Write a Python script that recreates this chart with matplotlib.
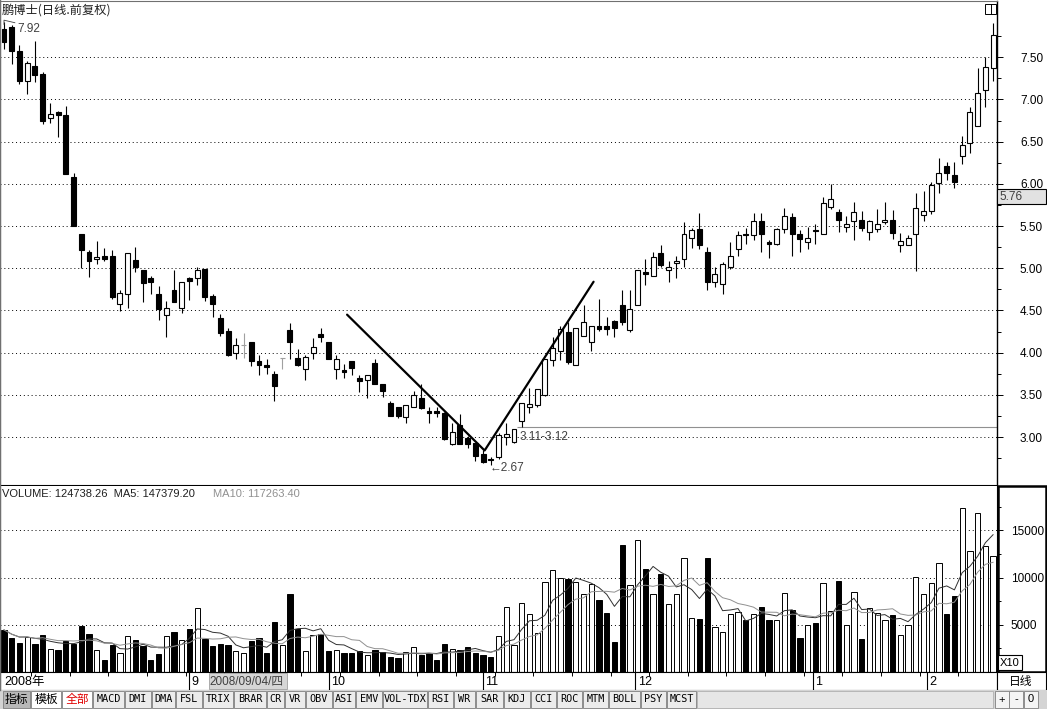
import numpy as np
import pandas as pd
import matplotlib
matplotlib.use('Agg')
import matplotlib.pyplot as plt
from matplotlib.patches import Rectangle

plt.rcParams['font.family'] = ['Liberation Sans', 'Noto Sans CJK SC', 'DejaVu Sans']
CJK = ['Noto Sans CJK SC', 'DejaVu Sans']

W, H = 1047, 709

# 日线数据 (前复权)
opens = [7.83, 7.86, 7.57, 7.22, 7.40, 7.30, 6.78, 6.85, 6.82, 6.08,
         5.40, 5.19, 5.11, 5.14, 5.15, 4.58, 4.69, 5.10, 4.98, 4.88,
         4.70, 4.44, 4.74, 4.53, 4.88, 4.88, 4.99, 4.67, 4.41, 4.26,
         4.00, 4.09, 4.13, 3.90, 3.85, 3.75, 3.94, 4.27, 3.94, 3.80,
         4.00, 4.22, 4.13, 3.80, 3.79, 3.90, 3.70, 3.67, 3.88, 3.63,
         3.40, 3.35, 3.24, 3.36, 3.46, 3.31, 3.31, 3.28, 2.92, 3.14,
         2.99, 2.93, 2.80, 2.74, 2.76, 3.00, 2.94, 3.19, 3.36, 3.38,
         3.50, 3.91, 4.02, 4.24, 3.85, 4.20, 4.13, 4.31, 4.32, 4.37,
         4.56, 4.27, 4.56, 4.95, 4.91, 5.18, 4.98, 5.06, 5.11, 5.36,
         5.46, 5.19, 4.84, 4.81, 5.01, 5.23, 5.40, 5.39, 5.56, 5.31,
         5.29, 5.47, 5.61, 5.40, 5.31, 5.45, 5.41, 5.72, 5.67, 5.49,
         5.56, 5.57, 5.43, 5.46, 5.55, 5.57, 5.28, 5.27, 5.40, 5.63,
         5.68, 6.01, 6.21, 6.11, 6.33, 6.49, 6.68, 7.11, 7.37]
highs = [7.92, 7.88, 7.65, 7.46, 7.69, 7.33, 6.96, 6.86, 6.92, 6.13,
         5.40, 5.22, 5.32, 5.24, 5.22, 4.74, 5.18, 5.25, 4.98, 4.91,
         4.79, 4.61, 4.98, 4.84, 4.90, 5.02, 4.99, 4.69, 4.46, 4.29,
         4.17, 4.23, 4.13, 3.97, 3.93, 3.78, 3.94, 4.35, 4.04, 3.97,
         4.17, 4.29, 4.13, 3.97, 3.87, 3.90, 3.74, 3.74, 3.93, 3.63,
         3.43, 3.35, 3.38, 3.54, 3.63, 3.35, 3.36, 3.30, 3.17, 3.27,
         3.01, 2.93, 2.85, 2.76, 3.05, 3.16, 3.10, 3.40, 3.58, 3.57,
         3.92, 4.18, 4.32, 4.36, 4.29, 4.56, 4.32, 4.63, 4.42, 4.39,
         4.74, 4.74, 4.98, 5.11, 5.19, 5.28, 5.09, 5.14, 5.55, 5.48,
         5.66, 5.25, 5.02, 5.07, 5.31, 5.44, 5.48, 5.66, 5.66, 5.33,
         5.48, 5.71, 5.66, 5.45, 5.49, 5.53, 5.85, 6.00, 5.70, 5.62,
         5.79, 5.68, 5.57, 5.70, 5.79, 5.69, 5.42, 5.39, 5.89, 5.91,
         6.02, 6.31, 6.26, 6.26, 6.57, 6.91, 7.37, 7.50, 7.91]
lows = [7.60, 7.42, 7.18, 7.07, 7.21, 6.71, 6.72, 6.55, 6.12, 5.50,
        5.00, 4.90, 5.05, 5.09, 4.64, 4.49, 4.53, 4.95, 4.60, 4.69,
        4.39, 4.19, 4.60, 4.47, 4.62, 4.80, 4.61, 4.42, 4.20, 3.96,
        3.93, 3.94, 3.84, 3.73, 3.75, 3.43, 3.80, 3.93, 3.84, 3.67,
        3.92, 4.12, 3.92, 3.69, 3.70, 3.74, 3.53, 3.46, 3.63, 3.47,
        3.25, 3.23, 3.17, 3.36, 3.33, 3.17, 3.24, 2.97, 2.91, 2.92,
        2.87, 2.72, 2.69, 2.67, 2.74, 2.91, 2.93, 3.12, 3.29, 3.35,
        3.48, 3.84, 3.91, 3.87, 3.85, 4.20, 4.02, 4.26, 4.21, 4.18,
        4.33, 4.24, 4.56, 4.80, 4.91, 5.01, 4.84, 4.89, 5.02, 5.24,
        5.23, 4.74, 4.78, 4.70, 4.99, 5.15, 5.29, 5.33, 5.19, 5.12,
        5.28, 5.42, 5.15, 5.19, 5.23, 5.29, 5.41, 5.70, 5.43, 5.43,
        5.34, 5.44, 5.34, 5.43, 5.52, 5.35, 5.19, 5.27, 4.97, 5.56,
        5.64, 5.89, 6.04, 5.95, 6.23, 6.36, 6.68, 6.91, 7.22]
closes = [7.68, 7.57, 7.22, 7.43, 7.29, 6.75, 6.83, 6.82, 6.12, 5.50,
          5.22, 5.08, 5.13, 5.11, 4.66, 4.71, 5.18, 5.02, 4.83, 4.84,
          4.52, 4.53, 4.60, 4.84, 4.85, 4.98, 4.66, 4.58, 4.23, 3.97,
          4.09, 4.09, 3.90, 3.85, 3.83, 3.60, 3.94, 4.13, 3.85, 3.95,
          4.07, 4.18, 3.93, 3.92, 3.77, 3.82, 3.66, 3.73, 3.63, 3.54,
          3.25, 3.25, 3.38, 3.50, 3.34, 3.29, 3.29, 2.98, 3.06, 2.92,
          2.92, 2.78, 2.70, 2.73, 3.02, 3.03, 3.09, 3.40, 3.39, 3.57,
          3.92, 4.05, 4.28, 3.89, 4.29, 4.36, 4.32, 4.28, 4.28, 4.29,
          4.36, 4.52, 4.98, 4.93, 5.13, 5.04, 5.02, 5.09, 5.40, 5.45,
          5.27, 4.84, 4.93, 5.05, 5.15, 5.39, 5.39, 5.56, 5.40, 5.29,
          5.47, 5.62, 5.41, 5.35, 5.36, 5.44, 5.77, 5.82, 5.57, 5.53,
          5.67, 5.48, 5.56, 5.52, 5.57, 5.42, 5.32, 5.36, 5.71, 5.68,
          5.99, 6.13, 6.13, 6.02, 6.46, 6.85, 7.08, 7.38, 7.76]
volumes = [4460, 3550, 3100, 3730, 3000, 3960, 2460, 2320, 3320, 2960,
           4910, 4050, 2280, 1270, 2820, 1960, 3820, 3410, 2730, 1270,
           1910, 3780, 4190, 3410, 4600, 6830, 3460, 2730, 3000, 2910,
           2230, 1960, 3320, 3640, 1960, 5280, 2870, 8280, 4550, 2180,
           3910, 4000, 2180, 2280, 1960, 1960, 2180, 1820, 2280, 2090,
           1640, 1460, 2090, 2640, 1820, 1960, 1270, 3000, 2460, 2370,
           2640, 2000, 1820, 1640, 3820, 6920, 2910, 7280, 6190, 4100,
           9560, 10830, 10010, 9830, 9560, 8280, 9370, 7640, 6280, 3190,
           13470, 9240, 14010, 10920, 8280, 10370, 7190, 8280, 12100, 5730,
           5640, 12100, 4730, 4280, 6100, 6370, 5550, 6100, 6920, 5550,
           5550, 8370, 6550, 3640, 5000, 5190, 9460, 6460, 9690, 5000,
           8460, 3460, 6730, 6280, 5460, 6010, 3910, 5000, 10100, 8280,
           9460, 11560, 6190, 8010, 17380, 12830, 16840, 13380, 12290]

# 月份 (K线序号) 与光标日期
month_labels = ['9', '10', '11', '12', '1', '2']
month_pos = [24, 42, 62, 81.7, 104.7, 119.5]
cursor_pos = 27
cursor_label = '2008/09/04/四'

# 手画的 V 形趋势线
trend_x = [44.4, 62.2, 76.3]
trend_y = [4.45, 2.84, 4.84]

# 底部指标标签
tab_names = ['指标', '模板', '全部', 'MACD', 'DMI', 'DMA', 'FSL', 'TRIX', 'BRAR', 'CR',
             'VR', 'OBV', 'ASI', 'EMV', 'VOL-TDX', 'RSI', 'WR', 'SAR', 'KDJ', 'CCI',
             'ROC', 'MTM', 'BOLL', 'PSY', 'MCST']
tab_edges = [3, 31, 62, 93, 125, 152, 176, 203, 234, 267, 285, 306, 333, 356, 383,
             428, 454, 476, 504, 531, 557, 583, 609, 641, 667, 697]

df = pd.DataFrame({'open': opens, 'high': highs, 'low': lows, 'close': closes, 'vol': volumes})
df['ma5'] = df['vol'].rolling(5, min_periods=1).mean()
df['ma10'] = df['vol'].rolling(10, min_periods=1).mean()
idx = np.arange(len(df))

STEP, X0 = 7.727, 4.0
x_lo, x_hi = -X0 / STEP, (997 - X0) / STEP

fig = plt.figure(figsize=(W / 100, H / 100), dpi=100)
fig.patch.set_facecolor('white')


def px_axes(x0, y0, x1, y1, **kw):
    return fig.add_axes([x0 / W, 1 - y1 / H, (x1 - x0) / W, (y1 - y0) / H], **kw)


# ---------------- K线 ----------------
ax = px_axes(0, 1, 997, 486)
ppu = (437 - 57.3) / 4.5
ax.set_xlim(x_lo, x_hi)
ax.set_ylim(3 - 49 / ppu, 3 + 436 / ppu)

for i, r in df.iterrows():
    o, h, l, c = r['open'], r['high'], r['low'], r['close']
    if c == o:
        ax.vlines(i, l, h, color='#a0a0a0', lw=0.8, zorder=2)
        ax.hlines(o, i - 0.33, i + 0.33, color='#a0a0a0', lw=0.8, zorder=2)
        continue
    face = 'white' if c > o else 'black'
    ax.vlines(i, l, h, color='black', lw=0.8, zorder=2)
    ax.add_patch(Rectangle((i - 0.32, min(o, c)), 0.64, max(abs(c - o), 0.01),
                           facecolor=face, edgecolor='black', lw=0.8, zorder=3))

ax.plot(trend_x, trend_y, color='black', lw=1.6, zorder=4, solid_capstyle='round')

ax.hlines(3.12, 66.4, x_hi, color='#909090', lw=0.8, zorder=1)
ax.text(66.7, 3.00, '3.11-3.12', va='center', ha='left', fontsize=8.5, color='#404040')
ax.text(62.9, 2.635, '←2.67', va='center', ha='left', fontsize=8.5, color='#404040')
ax.plot([0, 0, 1.4], [7.89, 7.94, 7.91], color='#404040', lw=0.6)
ax.text(1.7, 7.835, '7.92', va='center', ha='left', fontsize=8.5, color='#404040')

ax.set_yticks(np.arange(3.0, 7.51, 0.5))
ax.set_yticks(np.arange(2.75, 8.1, 0.5), minor=True)
ax.set_yticklabels(['%.2f' % v for v in np.arange(3.0, 7.51, 0.5)])
ax.yaxis.tick_right()
ax.tick_params(axis='y', which='major', direction='out', length=4, width=0.7, pad=12.5,
               labelsize=8.5, colors='black')
ax.tick_params(axis='y', which='minor', direction='out', length=3, width=0.7)
ax.set_xticks([])
ax.grid(axis='y', which='major', linestyle=(0, (1, 3)), color='black', lw=0.7)
for s in ['left', 'top']:
    ax.spines[s].set_color('#707070')
ax.spines['right'].set_linewidth(1.0)
ax.spines['bottom'].set_linewidth(1.5)

# ---------------- 成交量 ----------------
axv = px_axes(0, 486, 997, 672)
axv.set_xlim(x_lo, x_hi)
axv.set_ylim(0, 186 / 47.2 * 5000)
vcolors = ['black' if c < o else 'white' for o, c in zip(df['open'], df['close'])]
axv.bar(idx, df['vol'], width=0.68, color=vcolors, edgecolor='black', lw=0.7, zorder=2)
axv.plot(idx, df['ma5'], color='#303030', lw=0.7, zorder=3)
axv.plot(idx, df['ma10'], color='#909090', lw=0.7, zorder=3)
axv.set_yticks([5000, 10000, 15000])
axv.set_yticks([2500, 7500, 12500, 17500], minor=True)
axv.set_yticklabels(['5000', '10000', '15000'])
axv.yaxis.tick_right()
axv.tick_params(axis='y', which='major', direction='out', length=4, width=0.7, pad=6,
                labelsize=8.5)
axv.tick_params(axis='y', which='minor', direction='out', length=3, width=0.7)
axv.set_xticks([])
axv.grid(axis='y', which='major', linestyle=(0, (1, 3)), color='black', lw=0.7)
axv.spines['top'].set_visible(False)
axv.spines['left'].set_color('#707070')

# ---------------- 日期条 ----------------
axd = px_axes(0, 672, 997, 690)
axd.set_xlim(x_lo, x_hi)
axd.set_ylim(0, 1)
axd.set_xticks([])
axd.set_yticks([])
for s in axd.spines.values():
    s.set_linewidth(0.8)
axd.vlines(np.arange(3.5, 128, 5), 0.78, 1, color='black', lw=0.7)
axd.text(0.0, 0.45, '2008年', va='center', ha='left', fontsize=9, family=['Liberation Sans'] + CJK)
for p, lab in zip(month_pos, month_labels):
    axd.vlines(p, 0, 1, color='black', lw=0.8)
    axd.text(p + 0.3, 0.45, lab, va='center', ha='left', fontsize=9)
axd.add_patch(Rectangle((cursor_pos - 0.5, 0.05), 10.1, 0.9, facecolor='#d6d6d6',
                        edgecolor='#a0a0a0', lw=0.6, zorder=3))
axd.text(cursor_pos - 0.4, 0.45, cursor_label, va='center', ha='left', fontsize=8.5,
         color='#404040', zorder=4, family=['Liberation Sans'] + CJK)

# ---------------- 像素装饰层 ----------------
deco = fig.add_axes([0, 0, 1, 1], zorder=10)
deco.set_xlim(0, W)
deco.set_ylim(H, 0)
deco.axis('off')

deco.text(2, 10, '鹏博士(日线.前复权)', va='center', ha='left', fontsize=8.8,
          color='#202020', family=CJK)
deco.text(2, 494, 'VOLUME: 124738.26  MA5: 147379.20', va='center', ha='left',
          fontsize=8, color='#202020')
deco.text(213, 494, 'MA10: 117263.40', va='center', ha='left', fontsize=8, color='#909090')

# 右上角小图标
deco.add_patch(Rectangle((985, 4), 11, 10, facecolor='white', edgecolor='black', lw=0.7))
deco.plot([990.5, 990.5], [4, 14], color='black', lw=0.7)

# 光标价格框
deco.add_patch(Rectangle((997, 189), 49, 15, facecolor='#e2e2e2', edgecolor='black', lw=0.8))
deco.text(999, 196.5, '5.76', va='center', ha='left', fontsize=8.5, color='#404040')

# 成交量右侧粗框 + X10
deco.add_patch(Rectangle((997.5, 486), 48.5, 186, facecolor='none', edgecolor='black', lw=1.8))
deco.add_patch(Rectangle((998, 655), 24, 15, facecolor='white', edgecolor='black', lw=0.8))
deco.text(1010, 662.5, 'X10', va='center', ha='center', fontsize=8)

# 日线框
deco.add_patch(Rectangle((997, 672), 49, 18, facecolor='white', edgecolor='black', lw=0.8))
deco.text(1021, 681, '日线', va='center', ha='center', fontsize=8.5, family=CJK)

# 底部标签栏
deco.add_patch(Rectangle((0, 690), W, 19, facecolor='#d4d4d4', edgecolor='none'))
deco.add_patch(Rectangle((697, 691), 296, 17, facecolor='#e6e6e6', edgecolor='#b0b0b0', lw=0.6))
for k, name in enumerate(tab_names):
    x0, x1 = tab_edges[k], tab_edges[k + 1]
    face = '#ececec'
    color = 'black'
    fam = ['DejaVu Sans Mono']
    fs = 7.3
    if k == 0:
        face = '#b8b8b8'
    if k in (1, 2):
        face = 'white'
    if k < 3:
        fam, fs = CJK, 8.5
    if k == 2:
        color = '#e00000'
    deco.add_patch(Rectangle((x0, 691), x1 - x0 - 1, 17, facecolor=face,
                             edgecolor='#808080', lw=0.6))
    deco.text((x0 + x1 - 1) / 2, 699.5, name, va='center', ha='center', fontsize=fs,
              color=color, family=fam)
for x0, lab in zip([995, 1009, 1024], ['+', '-', '0']):
    deco.add_patch(Rectangle((x0, 691), 14, 17, facecolor='#f4f4f4', edgecolor='#808080', lw=0.6))
    deco.text(x0 + 7, 699.5, lab, va='center', ha='center', fontsize=8)
deco.plot([0, 0], [0, 690], color='#707070', lw=1)

fig.savefig('out.png', dpi=100)
